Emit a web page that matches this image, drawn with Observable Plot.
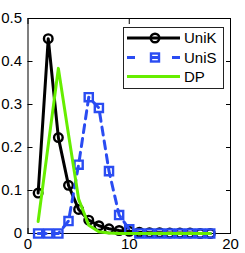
<!DOCTYPE html>
<html><head><meta charset="utf-8">
<script src="https://cdn.jsdelivr.net/npm/d3@7"></script>
<script src="https://cdn.jsdelivr.net/npm/@observablehq/plot@0.6"></script>
<style>
body{margin:0;background:#fff;}
#wrap{position:relative;width:245px;height:253px;font-family:"Liberation Sans",Arial,sans-serif;}
#legend{position:absolute;left:123px;top:27px;}
</style></head>
<body><div id="wrap"></div>
<script>
const steps = [1,2,3,4,5,6,7,8,9,10,11,12,13,14,15,16,17,18];
const unik = [0.094,0.453,0.223,0.112,0.056,0.031,0.018,0.011,0.007,0.005,0.003,0.002,0.002,0.001,0.001,0.001,0.000,0.000];
const unis = [0,0,0,0.029,0.160,0.317,0.292,0.145,0.043,0.010,0,0,0,0,0,0,0,0];
const dp   = [0.028,0.206,0.384,0.230,0.080,0.019,0.004,0.001,0,0,0,0,0,0,0,0,0,0];
const seriesNames = ["UniK","UniS","DP"];
const xTicks = [0,10,20];
const yTicks = [0,0.1,0.2,0.3,0.4,0.5];

const colK = "#000000", colS = "#2a4cf2", colD = "#66ee00";
const tbl = arr => steps.map((x,i)=>({x, y: arr[i]}));
const dK = tbl(unik), dS = tbl(unis), dD = tbl(dp);

const chart = Plot.plot({
  width: 245, height: 253,
  marginLeft: 27.5, marginRight: 15, marginTop: 18, marginBottom: 20,
  style: {fontFamily: '"Liberation Sans", Arial, sans-serif', fontSize: "15px", background: "#fff", color: "#000"},
  x: {domain: [0,20]},
  y: {domain: [0,0.5]},
  marks: [
    Plot.frame({stroke: "#000"}),
    Plot.axisY({ticks: yTicks, tickSize: -5, tickPadding: 11, tickFormat: d => String(d), fontSize: 15, label: null}),
    Plot.axisY({anchor: "right", ticks: yTicks, tickSize: -5, fill: "none", label: null}),
    Plot.axisX({ticks: xTicks, tickSize: -5, tickPadding: 10, fontSize: 15, label: null}),
    Plot.axisX({anchor: "top", ticks: xTicks, tickSize: -5, fill: "none", label: null}),
    Plot.line(dK, {x: "x", y: "y", stroke: colK, strokeWidth: 3}),
    Plot.dot(dK, {x: "x", y: "y", r: 4.3, stroke: colK, strokeWidth: 2.4, fill: "none"}),
    Plot.line(dS, {x: "x", y: "y", stroke: colS, strokeWidth: 3, strokeDasharray: "8,6"}),
    Plot.dot(dS, {x: "x", y: "y", symbol: "square", r: 4.6, stroke: colS, strokeWidth: 2.4, fill: "none"}),
    Plot.line(dD, {x: "x", y: "y", stroke: colD, strokeWidth: 3})
  ]
});
const wrap = document.getElementById("wrap");
wrap.appendChild(chart);

// legend
const legW = 100, legH = 61;
const leg = d3.select(wrap).append("svg").attr("id","legend")
  .attr("width", legW+1).attr("height", legH+1);
leg.append("rect").attr("x",0.5).attr("y",0.5).attr("width",legW).attr("height",legH)
  .attr("fill","#fff").attr("stroke","#222");
const rows = [
  {name: seriesNames[0], color: colK, dash: null, sym: "circle"},
  {name: seriesNames[1], color: colS, dash: "8,16,8,13", sym: "square"},
  {name: seriesNames[2], color: colD, dash: null, sym: null}
];
const rowY = [11, 30.5, 49.5];
rows.forEach((r,i) => {
  const g = leg.append("g").attr("transform", `translate(0,${rowY[i]})`);
  const ln = g.append("line").attr("x1",4).attr("x2",57).attr("y1",0).attr("y2",0)
    .attr("stroke", r.color).attr("stroke-width",3);
  if (r.dash) ln.attr("stroke-dasharray", r.dash);
  if (r.sym === "circle") g.append("circle").attr("cx",32).attr("cy",0).attr("r",4.3)
    .attr("fill","none").attr("stroke",r.color).attr("stroke-width",2.4);
  if (r.sym === "square") g.append("rect").attr("x",32-4).attr("y",-4).attr("width",8).attr("height",8)
    .attr("fill","none").attr("stroke",r.color).attr("stroke-width",2.4);
  g.append("text").attr("x",61).attr("y",0).attr("dy","0.36em")
    .attr("font-size",15).attr("font-family",'"Liberation Sans", Arial, sans-serif')
    .attr("fill","#000").text(r.name);
});
</script></body></html>
